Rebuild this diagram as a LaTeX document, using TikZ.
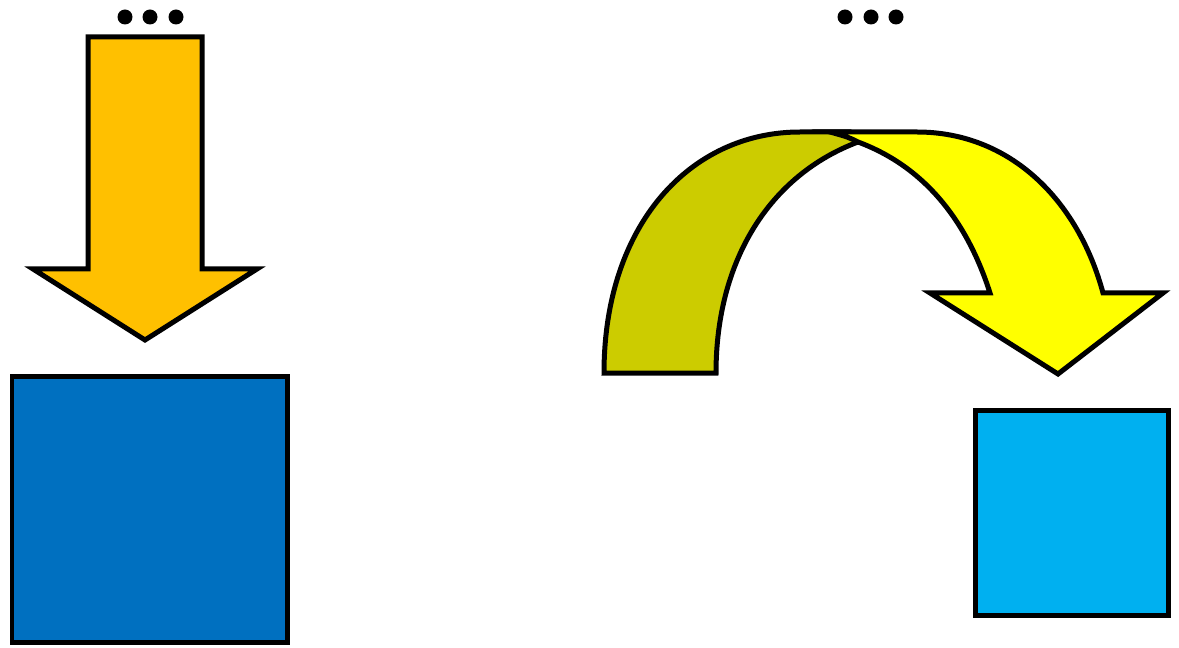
\documentclass[tikz,border=0pt]{standalone}
\usepackage{xcolor}
\usepackage{tikz}
\usetikzlibrary{arrows.meta,positioning,calc}

\definecolor{arrowOrange}{HTML}{FFC000}
\definecolor{boxDark}{HTML}{0070C0}
\definecolor{boxLight}{HTML}{00B0F0}
\definecolor{bendOlive}{HTML}{CCCC00}
\definecolor{bendYellow}{HTML}{FFFF00}

\begin{document}
\begin{tikzpicture}[
  x=0.02cm, y=-0.02cm,
  outline/.style={draw=black, line width=0.1cm, line join=miter, miter limit=10},
  dot/.style={circle, fill=black, inner sep=0pt, minimum size=0.3cm}
]
  \useasboundingbox (0,0) rectangle (1179,648);

  % dots above each arrow
  \foreach \i/\x in {1/125, 2/150, 3/176} {
    \node[dot] (dotL\i) at (\x,17) {};
  }
  \foreach \i/\x in {1/845, 2/871, 3/896} {
    \node[dot] (dotR\i) at (\x,17) {};
  }

  % straight down arrow
  \draw[outline, fill=arrowOrange]
    (88,37) -- (202,37) -- (202,269) -- (257,269) -- (145,340)
    -- (33,269) -- (88,269) -- cycle;

  % boxes
  \node[outline, fill=boxDark, minimum width=5.52cm, minimum height=5.34cm,
        inner sep=0pt, outer sep=0pt, anchor=north west] (bigbox) at (12,376) {};
  \node[outline, fill=boxLight, minimum width=3.88cm, minimum height=4.12cm,
        inner sep=0pt, outer sep=0pt, anchor=north west] (smallbox) at (975,410) {};

  % bent arrow, back part
  \draw[outline, fill=bendOlive]
    (604,373) .. controls (604,225) and (690,132) .. (800,132)
    -- (850,132) .. controls (853,136) .. (858,142)
    .. controls (770,175) and (716,260) .. (716,373) -- cycle;

  % bent arrow, front part
  \draw[outline, fill=bendYellow]
    (830,132) -- (917,132)
    .. controls (1010,132) and (1078,200) .. (1103,293)
    -- (1163,293) -- (1058,374) -- (930,293) -- (990,293)
    .. controls (965,215) and (920,165) .. (858,142)
    .. controls (848,137) .. cycle;
\end{tikzpicture}
\end{document}
